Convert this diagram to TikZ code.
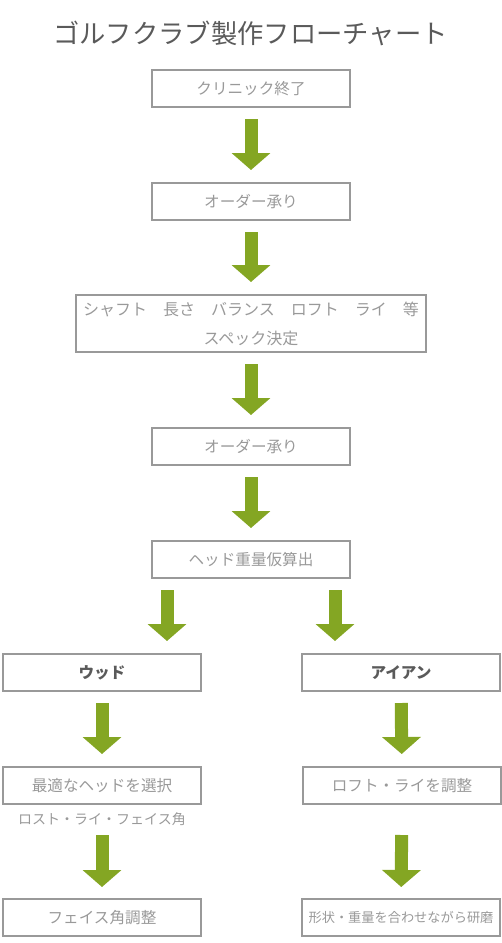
\documentclass[tikz,border=0pt]{standalone}
\usepackage{fontspec}
\setmainfont{Noto Sans CJK JP}
\usetikzlibrary{arrows.meta}
\definecolor{framegray}{HTML}{999999}
\definecolor{labelgray}{HTML}{999999}
\definecolor{titlegray}{HTML}{5A5A5A}
\definecolor{leafgreen}{HTML}{84A623}

\begin{document}
\begin{tikzpicture}[x=1pt,y=1pt,node distance=113pt,
	main/.style = {draw=framegray, line width=2pt, minimum width=198pt, minimum height=37pt, text=labelgray, font=\fontsize{15.6}{20}\selectfont},
	branch/.style = {main, text=titlegray, font=\fontsize{15.6}{20}\selectfont\bfseries},
	flow/.style = {leafgreen, line width=13pt, -{Triangle[width=38pt,length=17pt]}, shorten <=11pt, shorten >=12pt}]
		\useasboundingbox (0,0) rectangle (502,-943);
		\node (0) [text=titlegray, font=\fontsize{26.3}{30}\selectfont] at (250.5,-33) {ゴルフクラブ製作フローチャート};
		\node[main] (1) at (251,-88.5) {クリニック終了};
		\node[main] (2) [below of=1] {オーダー承り};
		\node[main, minimum width=350pt, minimum height=57pt, align=center, font=\fontsize{16}{29}\selectfont] (3) [node distance=122pt, below of=2] {シャフト　長さ　バランス　ロフト　ライ　等\\スペック決定};
		\node[main] (4) [node distance=123pt, below of=3] {オーダー承り};
		\node[main] (5) [below of=4] {ヘッド重量仮算出};
		%Create 2 branch nodes (wood / iron)
		\node[branch] (6) [below of=5, xshift=-149pt] {ウッド};
		\node[branch] (7) [below of=5, xshift=150pt] {アイアン};
		%Create 2 nodes in middle part of the branches
		\node[main] (8) [below of=6] {最適なヘッドを選択};
		\node[main] (9) [below of=7, xshift=1pt] {ロフト・ライを調整};
		\node (12) [node distance=34pt, below of=8, text=labelgray, font=\fontsize{14}{16}\selectfont] {ロスト・ライ・フェイス角};
		%Create 2 nodes in bottom part
		\node[main] (10) [node distance=132pt, below of=8] {フェイス角調整};
		\node[main, font=\fontsize{13.2}{16}\selectfont] (11) [node distance=132pt, below of=7, yshift=-113pt] {形状・重量を合わせながら研磨};
		
		%Main flow
		\path [flow] (1) edge (2); %Arrow 1 -> 2
		\path [flow] (2) edge (3); %Arrow 2 -> 3
		\path [flow] (3) edge (4); %Arrow 3 -> 4
		\path [flow] (4) edge (5); %Arrow 4 -> 5
		
		%Split into wood and iron
		\draw [flow] ([xshift=-84pt]5.south) -- ([xshift=65pt]6.north); %Arrow 5 -> 6
		\draw [flow] ([xshift=84pt]5.south) -- ([xshift=-66pt]7.north); %Arrow 5 -> 7
		
		%Branch flows
		\path [flow] (6) edge (8); %Arrow 6 -> 8
		\path [flow] (7) edge (9); %Arrow 7 -> 9
		\path [flow, shorten <=30pt, shorten >=11pt] (8) edge (10); %Arrow 8 -> 10
		\path [flow, shorten <=30pt, shorten >=11pt] (9) edge (11); %Arrow 9 -> 11
		
	\end{tikzpicture}
\end{document}
